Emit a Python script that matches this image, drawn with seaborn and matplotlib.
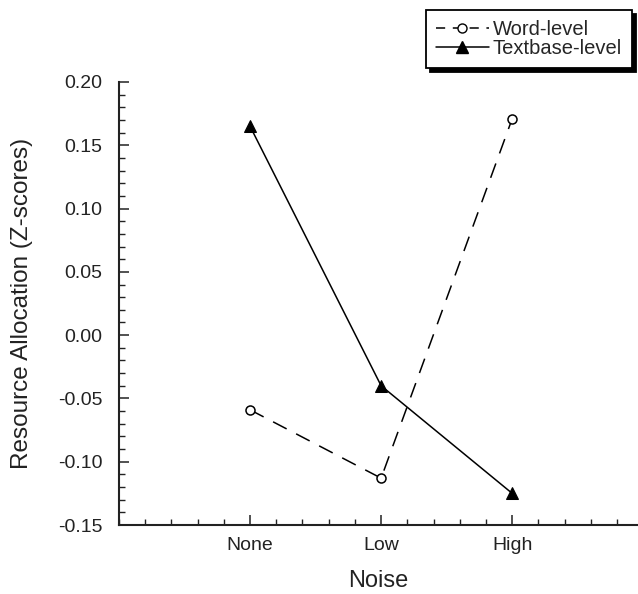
import matplotlib
matplotlib.use("Agg")
import matplotlib.pyplot as plt
from matplotlib.ticker import MultipleLocator, FormatStrFormatter
from matplotlib.lines import Line2D
import seaborn as sns
import pandas as pd

noise_levels = ["None", "Low", "High"]
word_level = [-0.059, -0.113, 0.171]
textbase_level = [0.165, -0.040, -0.125]
series_names = ["Word-level", "Textbase-level"]
y_ticks = [-0.15, -0.10, -0.05, 0.00, 0.05, 0.10, 0.15, 0.20]

df = pd.DataFrame({
    "Noise": noise_levels * 2,
    "Value": word_level + textbase_level,
    "Level": [series_names[0]] * 3 + [series_names[1]] * 3,
})

sns.set_theme(style="ticks")
plt.rcParams["font.family"] = ["Liberation Sans", "DejaVu Sans"]
plt.rcParams["axes.unicode_minus"] = False

fig = plt.figure(figsize=(6.38, 5.94), dpi=100)
ax = fig.add_axes([119 / 638, 1 - 525 / 594, 1 - 119 / 638, (525 - 82) / 594])

sns.lineplot(data=df, x="Noise", y="Value", hue="Level", style="Level",
             palette={series_names[0]: "black", series_names[1]: "black"},
             markers={series_names[0]: "o", series_names[1]: "^"},
             dashes={series_names[0]: (10, 7), series_names[1]: ""},
             sort=False, linewidth=1.1, ax=ax, legend=False)

for ln in ax.get_lines():
    if ln.get_marker() == "o":
        ln.set_markerfacecolor("white")
        ln.set_markeredgecolor("black")
        ln.set_markersize(6.5)
        ln.set_markeredgewidth(1.1)
    elif ln.get_marker() == "^":
        ln.set_markerfacecolor("black")
        ln.set_markeredgecolor("black")
        ln.set_markersize(8)

ax.set_xlim(-1, 2.96)
ax.set_ylim(-0.15, 0.20)
ax.set_xticks([0, 1, 2])
ax.set_xticklabels(noise_levels)
ax.set_yticks(y_ticks)
ax.yaxis.set_major_formatter(FormatStrFormatter("%.2f"))
ax.xaxis.set_minor_locator(MultipleLocator(0.2))
ax.yaxis.set_minor_locator(MultipleLocator(0.01))

for s in ["top", "right"]:
    ax.spines[s].set_visible(False)
for s in ["left", "bottom"]:
    ax.spines[s].set_linewidth(1.5)
    ax.spines[s].set_color("#222222")

ax.tick_params(axis="both", which="major", direction="in", length=7, width=1.1,
               labelsize=14, colors="#222222")
ax.tick_params(axis="both", which="minor", direction="in", length=4, width=1.0,
               colors="#222222")
ax.tick_params(axis="y", which="major", pad=12)
ax.tick_params(axis="x", which="major", pad=9)

ax.set_xlabel("Noise", fontsize=17, labelpad=11, color="#222222")
ax.set_ylabel("Resource Allocation (Z-scores)", fontsize=17.5, labelpad=18, color="#222222")

handles = [
    Line2D([], [], color="black", lw=1.1, dashes=(6, 5), marker="o",
           markerfacecolor="white", markeredgecolor="black", markersize=6.5),
    Line2D([], [], color="black", lw=1.1, marker="^", markersize=8),
]
leg = ax.legend(handles, series_names, loc="upper right",
                bbox_to_anchor=(632 / 638, 1 - 10 / 594),
                bbox_transform=fig.transFigure, fontsize=14.5,
                frameon=True, fancybox=False,
                shadow={"color": "black", "alpha": 1.0, "ox": 3, "oy": -3},
                handlelength=2.6, handletextpad=0.2, borderpad=0.5,
                labelspacing=0.0, borderaxespad=0)
leg.get_frame().set_edgecolor("black")
leg.get_frame().set_linewidth(1.3)
leg.get_frame().set_facecolor("white")

fig.savefig("out.png", dpi=100)
